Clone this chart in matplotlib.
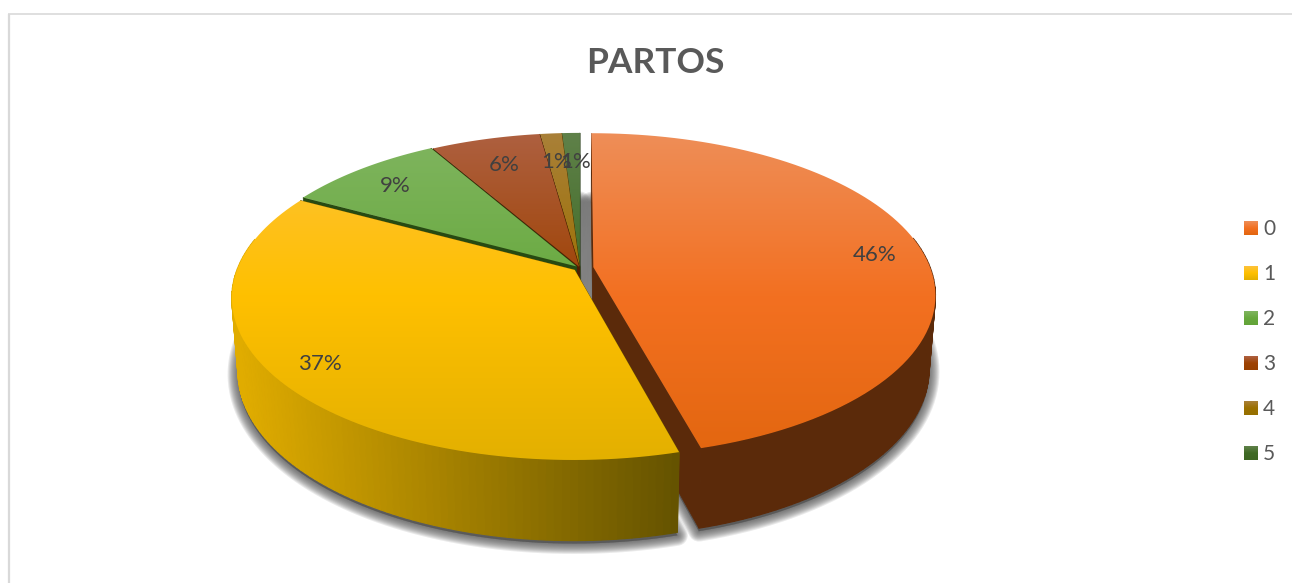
#!/usr/bin/env python

import matplotlib
matplotlib.use('Agg')
import matplotlib.pyplot as plt
import numpy as np
from matplotlib.colors import LinearSegmentedColormap, to_rgb
from matplotlib.patches import Polygon

# data
categories = ['0', '1', '2', '3', '4', '5']
shares = [45.8, 37.1, 8.8, 6.1, 1.2, 1.0]
title = 'PARTOS'

# style per slice
base_colors = ['#F37021', '#FFC000', '#68A93E', '#9E4202', '#9C7000', '#3F6A25']
light_colors = ['#EE8E58', '#FDC23A', '#80B560', '#AE6040', '#A98038', '#5F8149']
dark_colors = ['#E2660F', '#E3B000', '#62A338', '#973F00', '#957000', '#3D6623']
face_colors = ['#5B2A0A', '#6B5700', '#274A12', '#4E1F02', '#4A3800', '#1F3510']
wall_left = ['#5D2C0B', '#E0AC00', '#3A6A1E', '#6B2D04', '#6B5000', '#2A4818']
wall_right = ['#5B2A0A', '#655300', '#3A6A1E', '#6B2D04', '#6B5000', '#2A4818']
shift = [0.04, 0.02, 0.014, 0.008, 0.008, 0.008]
label_radius = [0.86, 0.87, 0.83, 0.77, 0.74, 0.74]
label_nudge = [(0, 5), (0, 0), (0, 2), (0, 0), (-1, -2), (3, -2)]

# projection of the pie, in pixels
CX, CY = 580, 268
RX_TOP, RY_TOP = 337, 157
RX_BOT, RY_BOT, CY_BOT = 331, 164, 340
PERSP = 0.17


def project(u, v, rx, ry, cy):
    s = 1 / (1 + PERSP * v)
    return CX + rx * u * s, cy - ry * v * s


def top_point(u, v):
    return project(u, v, RX_TOP, RY_TOP, CY)


def bottom_point(u, v):
    return project(u, v, RX_BOT, RY_BOT, CY_BOT)


def blend(c1, c2, t):
    return tuple(a + (b - a) * t for a, b in zip(to_rgb(c1), to_rgb(c2)))


def slice_arc(start, end, du, dv, func):
    angles = np.linspace(start, end, 90)
    return [func(np.sin(a) + du, np.cos(a) + dv) for a in angles]


def draw_shadow(ax, start, end, du, dv):
    outline = [bottom_point(du, dv)] + slice_arc(start, end, du, dv, bottom_point)
    outline = [(x, y + 3) for x, y in outline]
    for lw in np.arange(15, 0, -1.5):
        ax.add_patch(Polygon(outline, closed=True, facecolor='#505050', edgecolor='#505050',
                             lw=lw, alpha=0.12, joinstyle='round', zorder=1))


def draw_walls(ax, i, start, end, du, dv, zorder):
    # the two cut faces
    for a in (start, end):
        u, v = np.sin(a) + du, np.cos(a) + dv
        quad = [top_point(du, dv), top_point(u, v), bottom_point(u, v), bottom_point(du, dv)]
        ax.add_patch(Polygon(quad, closed=True, facecolor=face_colors[i], edgecolor=face_colors[i],
                             lw=0.5, zorder=zorder))
    # outer wall, split in thin strips for the horizontal gradient
    angles = np.linspace(start, end, 120)
    for a0, a1 in zip(angles[:-1], angles[1:]):
        if np.cos(a0) > 0.2:
            continue  # back of the wall, hidden by the top face
        u0, v0 = np.sin(a0) + du, np.cos(a0) + dv
        u1, v1 = np.sin(a1) + du, np.cos(a1) + dv
        strip = [top_point(u0, v0), top_point(u1, v1), bottom_point(u1, v1), bottom_point(u0, v0)]
        t = np.clip((strip[0][0] - 240) / 440, 0, 1)
        color = blend(wall_left[i], wall_right[i], t)
        ax.add_patch(Polygon(strip, closed=True, facecolor=color, edgecolor=color, lw=0.9, zorder=zorder))


def draw_top(ax, i, start, end, du, dv, zorder):
    outline = [top_point(du, dv)] + slice_arc(start, end, du, dv, top_point)
    patch = Polygon(outline, closed=True, facecolor='none', edgecolor='none', zorder=zorder)
    ax.add_patch(patch)
    cmap = LinearSegmentedColormap.from_list(
        'top', [(0, light_colors[i]), (0.5, base_colors[i]), (1, dark_colors[i])])
    gradient = np.linspace(0, 1, 256).reshape(-1, 1)
    im = ax.imshow(gradient, cmap=cmap, extent=(200, 960, 460, 132), aspect='auto', zorder=zorder,
                   interpolation='bilinear')
    im.set_clip_path(patch)


def main():
    plt.rcParams['font.family'] = ['Lato', 'DejaVu Sans']

    fig = plt.figure(figsize=(12.92, 5.83), dpi=100, facecolor='white')
    ax = fig.add_axes([0, 0, 1, 1])
    ax.axis('off')

    fractions = np.cumsum([0] + shares) / sum(shares)
    bounds = 2 * np.pi * fractions
    mids = (bounds[:-1] + bounds[1:]) / 2
    offsets = [(shift[i] * np.sin(mids[i]), shift[i] * np.cos(mids[i])) for i in range(len(shares))]

    for i in range(len(shares)):
        draw_shadow(ax, bounds[i], bounds[i + 1], *offsets[i])

    # back slices first, the big ones sit in front
    for z, i in enumerate([5, 4, 3, 2, 0, 1]):
        du, dv = offsets[i]
        draw_walls(ax, i, bounds[i], bounds[i + 1], du, dv, 2 + z * 2)
        draw_top(ax, i, bounds[i], bounds[i + 1], du, dv, 3 + z * 2)

    for i, share in enumerate(shares):
        du, dv = offsets[i]
        r = label_radius[i]
        x, y = top_point(r * np.sin(mids[i]) + du, r * np.cos(mids[i]) + dv)
        ax.text(x + label_nudge[i][0], y + label_nudge[i][1], f'{share:.0f}%', ha='center', va='center',
                fontsize=16, color='#404040', zorder=20)

    ax.text(655, 63, title, ha='center', va='center', fontsize=25.5, fontweight='bold', color='#595959', zorder=20)

    # legend
    for i, cat in enumerate(categories):
        y = 228 + i * 45
        cmap = LinearSegmentedColormap.from_list('leg', [light_colors[i], base_colors[i], dark_colors[i]])
        ax.imshow(np.linspace(0, 1, 32).reshape(-1, 1), cmap=cmap, extent=(1244, 1258, y + 7, y - 7),
                  aspect='auto', zorder=20)
        ax.text(1263, y + 1, cat, ha='left', va='center', fontsize=15, color='#595959', zorder=20)

    # chart frame
    ax.plot([9, 9], [583, 14], color='#D9D9D9', lw=1.6, zorder=0, solid_capstyle='butt')
    ax.plot([8, 1292], [14, 14], color='#D9D9D9', lw=1.2, zorder=0, solid_capstyle='butt')

    ax.set_xlim(0, 1292)
    ax.set_ylim(583, 0)
    fig.savefig('out.png', dpi=100, facecolor='white')
    plt.close(fig)


if __name__ == '__main__':
    main()
